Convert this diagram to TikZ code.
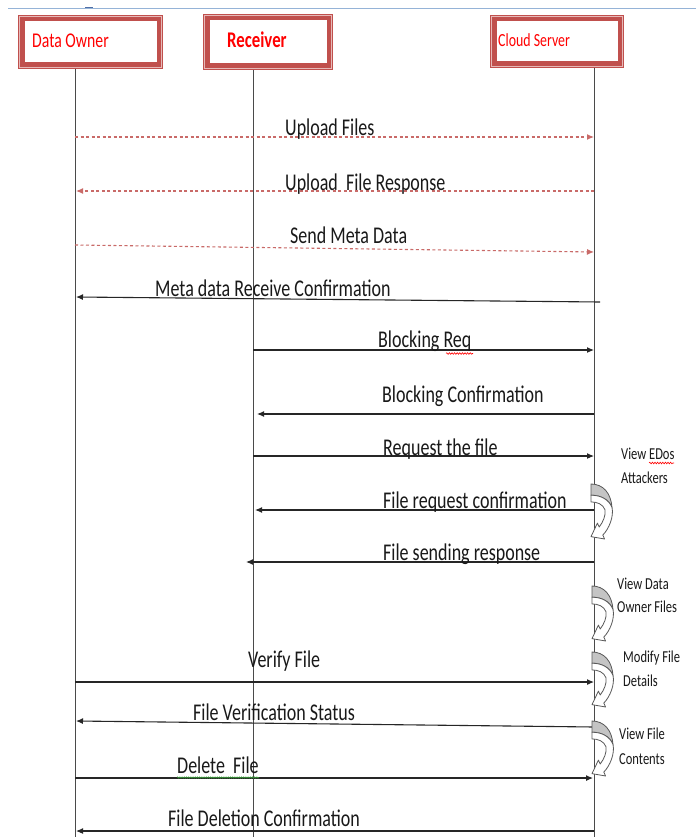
\documentclass[tikz,border=0pt]{standalone}
\usepackage{fontspec}
\setmainfont{Carlito}
\newfontfamily\narrowfont[FakeStretch=0.75]{Carlito}
\usetikzlibrary{arrows.meta,decorations.pathmorphing}

\definecolor{boxred}{HTML}{C0504D}
\definecolor{boxpink}{HTML}{E6B9B8}
\definecolor{namered}{HTML}{FF0000}
\definecolor{lifegray}{HTML}{4A4A4A}
\definecolor{msgline}{HTML}{262626}
\definecolor{topblue}{HTML}{95B3D7}
\definecolor{markblue}{HTML}{4F6FA8}
\definecolor{loopgray}{HTML}{C4C4C4}
\definecolor{loopedge}{HTML}{595959}
\definecolor{spellred}{HTML}{FF0000}
\definecolor{grammargreen}{HTML}{3A9A3A}

% curved self-call arrow, local units with y pointing down:
% the shaded back face and the white front band ending in a head
\def\loopback{(0,0) .. controls (12,0) and (20,8) .. (21,21)
  .. controls (18,14) and (10,10) .. (0,10) -- cycle}
\def\loopfront{(0,10) .. controls (10,10) and (18,14) .. (21,21)
  .. controls (23,29) and (18,40) .. (11.8,45.6) -- (13.6,49.1) -- (0,47)
  -- (6.4,34.9) -- (8.2,38.4) .. controls (12,34) and (15,28) .. (14,23)
  .. controls (12,18) and (6,16) .. (0,16) -- cycle}

\tikzset{
  lifeline/.style={draw=lifegray, line width=1pt},
  msg/.style={draw=msgline, line width=1.1pt, -{Latex[length=7pt,width=6pt]}},
  dashmsg/.style={draw=boxred!85, line width=1.1pt, dash pattern=on 3pt off 2.5pt,
    -{Latex[length=7pt,width=6pt]}},
  msglabel/.style={anchor=base west, inner sep=0pt, text=black!90,
    font=\narrowfont\fontsize{24}{28}\selectfont},
  sidelabel/.style={anchor=base west, inner sep=0pt, text=black!90,
    font=\narrowfont\fontsize{16.7}{20}\selectfont},
  actorbox/.style={draw=boxred, line width=6.5pt, fill=white, inner sep=0pt},
  actorname/.style={anchor=base west, inner sep=0pt, text=namered},
  spell/.style={draw=spellred, line width=0.6pt, decorate,
    decoration={snake, amplitude=0.8pt, segment length=2.6pt}},
  grammar/.style={draw=grammargreen, line width=0.6pt, decorate,
    decoration={snake, amplitude=0.7pt, segment length=2.2pt}},
  selfcall/.pic={
    \begin{scope}[yscale=1.12]
      \filldraw[fill=loopgray, draw=loopedge, line width=0.8pt, line join=round] \loopback;
      \filldraw[fill=white, draw=loopedge, line width=0.8pt, line join=round] \loopfront;
    \end{scope}
  }
}

\begin{document}
\begin{tikzpicture}[x=1pt,y=-1pt]
\useasboundingbox[fill=white] (0,0) rectangle (696,837);

% page rule along the top
\draw[topblue, line width=1.2pt] (8,8.5) -- (696,8.5);
\draw[markblue, line width=1.5pt] (85,7.6) -- (93,7.6);

% lifeline ends
\coordinate (ownerbot) at (75,837);
\coordinate (recvbot) at (253,837);
\coordinate (cloudbot) at (594,837);

% actor boxes
\node[actorbox, minimum width=138.5pt, minimum height=47.5pt] (ownerbox) at (90.5,42) {};
\node[actorbox, minimum width=123.5pt, minimum height=49.5pt] (recvbox) at (268,42) {};
\node[actorbox, minimum width=127.5pt, minimum height=46.5pt] (cloudbox) at (557,41.5) {};
\foreach \b in {ownerbox,recvbox,cloudbox}{
  \draw[boxpink, line width=1pt]
    ([shift={(1.25,1.25)}]\b.north west) rectangle ([shift={(-1.25,-1.25)}]\b.south east);
}

\node[actorname, font=\narrowfont\fontsize{21}{24}\selectfont] (ownername) at (32,48) {Data Owner};
\node[actorname, font=\narrowfont\bfseries\fontsize{22.4}{26}\selectfont] (recvname) at (227,48) {Receiver};
\node[actorname, font=\narrowfont\fontsize{18.5}{22}\selectfont] (cloudname) at (498,47) {Cloud Server};

% lifelines
\draw[lifeline] (ownerbot |- ownerbox.south) -- (ownerbot);
\draw[lifeline] (recvbot |- recvbox.south) -- (recvbot);
\draw[lifeline] (cloudbot |- cloudbox.south) -- (cloudbot);

% message end points
\coordinate (m1a) at (75,137);   \coordinate (m1b) at (594,137);
\coordinate (m2a) at (594,191);  \coordinate (m2b) at (76,191);
\coordinate (m3a) at (75,245);   \coordinate (m3b) at (594,252);
\coordinate (m4a) at (600,302);  \coordinate (m4b) at (76,297);
\coordinate (m5a) at (253,350);  \coordinate (m5b) at (594,350);
\coordinate (m6a) at (594,414);  \coordinate (m6b) at (257,414);
\coordinate (m7a) at (253,456);  \coordinate (m7b) at (594,456);
\coordinate (m8a) at (594,510);  \coordinate (m8b) at (255,510);
\coordinate (m9a) at (594,562);  \coordinate (m9b) at (246,562);
\coordinate (m10a) at (75,682);  \coordinate (m10b) at (594,682);
\coordinate (m11a) at (594,727); \coordinate (m11b) at (76,721);
\coordinate (m12a) at (75,778);  \coordinate (m12b) at (593,778);
\coordinate (m13a) at (594,831); \coordinate (m13b) at (76,831);

% messages
\draw[dashmsg] (m1a) -- (m1b);
\draw[dashmsg] (m2a) -- (m2b);
\draw[dashmsg] (m3a) -- (m3b);
\draw[msg] (m4a) -- (m4b);
\draw[msg] (m5a) -- (m5b);
\draw[msg] (m6a) -- (m6b);
\draw[msg] (m7a) -- (m7b);
\draw[msg] (m8a) -- (m8b);
\draw[msg] (m9a) -- (m9b);
\draw[msg] (m10a) -- (m10b);
\draw[msg] (m11a) -- (m11b);
\draw[msg] (m12a) -- (m12b);
\draw[msg] (m13a) -- (m13b);

% message labels
\node[msglabel] (l1) at (285,136) {Upload Files};
\node[msglabel] (l2) at (285,190) {Upload\ \ File Response};
\node[msglabel] (l3) at (290,243) {Send Meta Data};
\node[msglabel] (l4) at (155,296) {Meta data Receive Confirmation};
\node[msglabel] (l5) at (378,347) {Blocking Req};
\node[msglabel] (l6) at (382,402) {Blocking Confirmation};
\node[msglabel] (l7) at (383,455) {Request the file};
\node[msglabel] (l8) at (383,508) {File request confirmation};
\node[msglabel] (l9) at (383,560) {File sending response};
\node[msglabel] (l10) at (248,667) {Verify File};
\node[msglabel] (l11) at (193,720) {File Verification Status};
\node[msglabel] (l12) at (177,773) {Delete\ \ File};
\node[msglabel] (l13) at (168,826) {File Deletion Confirmation};

% proofing marks under words
\draw[spell] (446,353.5) -- (473,353.5);
\draw[grammar] (177,777.5) -- (259,777.5);

% internal actions of the cloud server
\pic (loopA) at (591,484) {selfcall};
\pic (loopB) at (592,586) {selfcall};
\pic (loopC) at (592,652) {selfcall};
\pic (loopD) at (592,721) {selfcall};

\node[sidelabel] (sA1) at (621,459) {View EDos};
\node[sidelabel] (sA2) at (621,483) {Attackers};
\draw[spell] (649,463) -- (674,463);
\node[sidelabel] (sB1) at (617,589) {View Data};
\node[sidelabel] (sB2) at (617,612) {Owner Files};
\node[sidelabel] (sC1) at (623,662) {Modify File};
\node[sidelabel] (sC2) at (623,686) {Details};
\node[sidelabel] (sD1) at (619,739) {View File};
\node[sidelabel] (sD2) at (619,764) {Contents};
\end{tikzpicture}
\end{document}
